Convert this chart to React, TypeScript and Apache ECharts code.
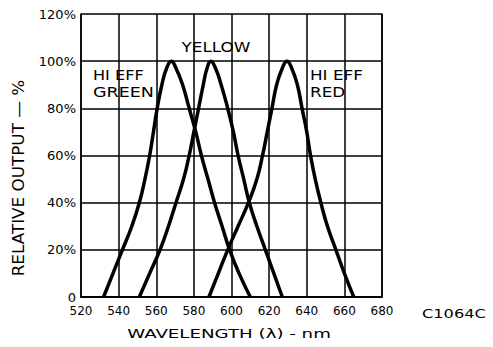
import React, { useEffect, useRef } from "react";
import * as echarts from "echarts";

const xTicks = [520, 540, 560, 580, 600, 620, 640, 660, 680];
const yTicks = [0, 20, 40, 60, 80, 100, 120];

const greenCurve: [number, number][] = [
  [532, 0], [537, 10], [542, 20], [547, 30], [551, 40], [554, 50], [556.5, 60],
  [558.5, 70], [560.5, 80], [563, 90], [565.5, 97], [568, 100], [570.5, 97],
  [574, 90], [577.5, 80], [581, 70], [584, 60], [587.5, 50], [591, 40], [595, 30],
  [599, 20], [604, 10], [610, 0],
];
const yellowCurve: [number, number][] = [
  [551, 0], [556.5, 10], [562, 20], [566.5, 30], [570.5, 40], [574.5, 50], [577.5, 60],
  [580, 70], [582.5, 80], [585, 90], [587, 97], [589, 100], [591.5, 97],
  [594.5, 90], [598, 80], [601, 70], [603.5, 60], [606.5, 50], [609.5, 40],
  [613.5, 30], [618, 20], [622.5, 10], [627, 0],
];
const redCurve: [number, number][] = [
  [588, 0], [593, 10], [598, 20], [603.5, 30], [609, 40], [613.5, 50], [616.5, 60],
  [619, 70], [621.5, 80], [624, 90], [627, 97], [629.5, 100], [632, 97], [635, 90],
  [637.5, 80], [640, 70], [642, 60], [644.5, 50], [647.5, 40], [651, 30], [655.5, 20],
  [660, 10], [665, 0],
];

const FONT = "DejaVu Sans";

export default function App() {
  const ref = useRef<HTMLDivElement>(null);
  useEffect(() => {
    if (!ref.current) return;
    const chart = echarts.init(ref.current, null, { renderer: "svg" });
    const lineSeries = (name: string, data: [number, number][]) => ({
      name,
      type: "line",
      data,
      smooth: 0.5,
      showSymbol: false,
      symbol: "none",
      lineStyle: { color: "#000", width: 3.5 },
      z: 5,
    });
    const txt = (text: string, x: number, y: number, opts: any = {}) => ({
      type: "text",
      x,
      y,
      scaleX: opts.scaleX ?? 1.2,
      rotation: opts.rotation ?? 0,
      z: 10,
      style: {
        text,
        fill: "#000",
        font: `${opts.size ?? 14}px '${FONT}'`,
        textAlign: opts.align ?? "left",
        textVerticalAlign: "middle",
      },
    });
    const border = { show: true, lineStyle: { color: "#000", width: 1.5 } };
    const split = { show: true, lineStyle: { color: "#000", width: 1.5 } };
    chart.setOption({
      animation: false,
      grid: { left: 81, right: 111, top: 14, bottom: 50 },
      xAxis: [
        {
          type: "value",
          min: xTicks[0],
          max: xTicks[xTicks.length - 1],
          interval: 20,
          axisLine: border,
          axisTick: { show: false },
          axisLabel: { color: "#000", fontFamily: FONT, fontSize: 12, margin: 8 },
          splitLine: split,
        },
        {
          type: "value",
          position: "top",
          min: xTicks[0],
          max: xTicks[xTicks.length - 1],
          interval: 20,
          axisLine: border,
          axisTick: { show: false },
          axisLabel: { show: false },
          splitLine: { show: false },
        },
      ],
      yAxis: [
        {
          type: "value",
          min: yTicks[0],
          max: yTicks[yTicks.length - 1],
          interval: 20,
          axisLine: border,
          axisTick: { show: false },
          axisLabel: {
            color: "#000",
            fontFamily: FONT,
            fontSize: 13,
            margin: 5,
            formatter: (v: number) => (v === 0 ? "0" : `${v}%`),
          },
          splitLine: split,
        },
        {
          type: "value",
          position: "right",
          min: yTicks[0],
          max: yTicks[yTicks.length - 1],
          interval: 20,
          axisLine: border,
          axisTick: { show: false },
          axisLabel: { show: false },
          splitLine: { show: false },
        },
      ],
      series: [
        lineSeries("HI EFF GREEN", greenCurve),
        lineSeries("YELLOW", yellowCurve),
        lineSeries("HI EFF RED", redCurve),
      ],
      graphic: [
        txt("YELLOW", 216, 47, { align: "center", scaleX: 1.2 }),
        txt("HI EFF", 93, 75, { scaleX: 1.15 }),
        txt("GREEN", 93, 92, { scaleX: 1.25 }),
        txt("HI EFF", 310, 75, { scaleX: 1.2 }),
        txt("RED", 310, 92, { scaleX: 1.2 }),
        txt("C1064C", 422, 314, { size: 12, scaleX: 1.35 }),
        txt("WAVELENGTH (λ) - nm", 229, 333, { size: 13, align: "center", scaleX: 1.4 }),
        txt("RELATIVE OUTPUT — %", 19, 178, {
          size: 15,
          align: "center",
          scaleX: 1.12,
          rotation: Math.PI / 2,
        }),
      ],
    });
    return () => chart.dispose();
  }, []);
  return (
    <div
      ref={ref}
      style={{ position: "fixed", left: 0, top: 0, width: 493, height: 347, background: "#fff" }}
    />
  );
}
